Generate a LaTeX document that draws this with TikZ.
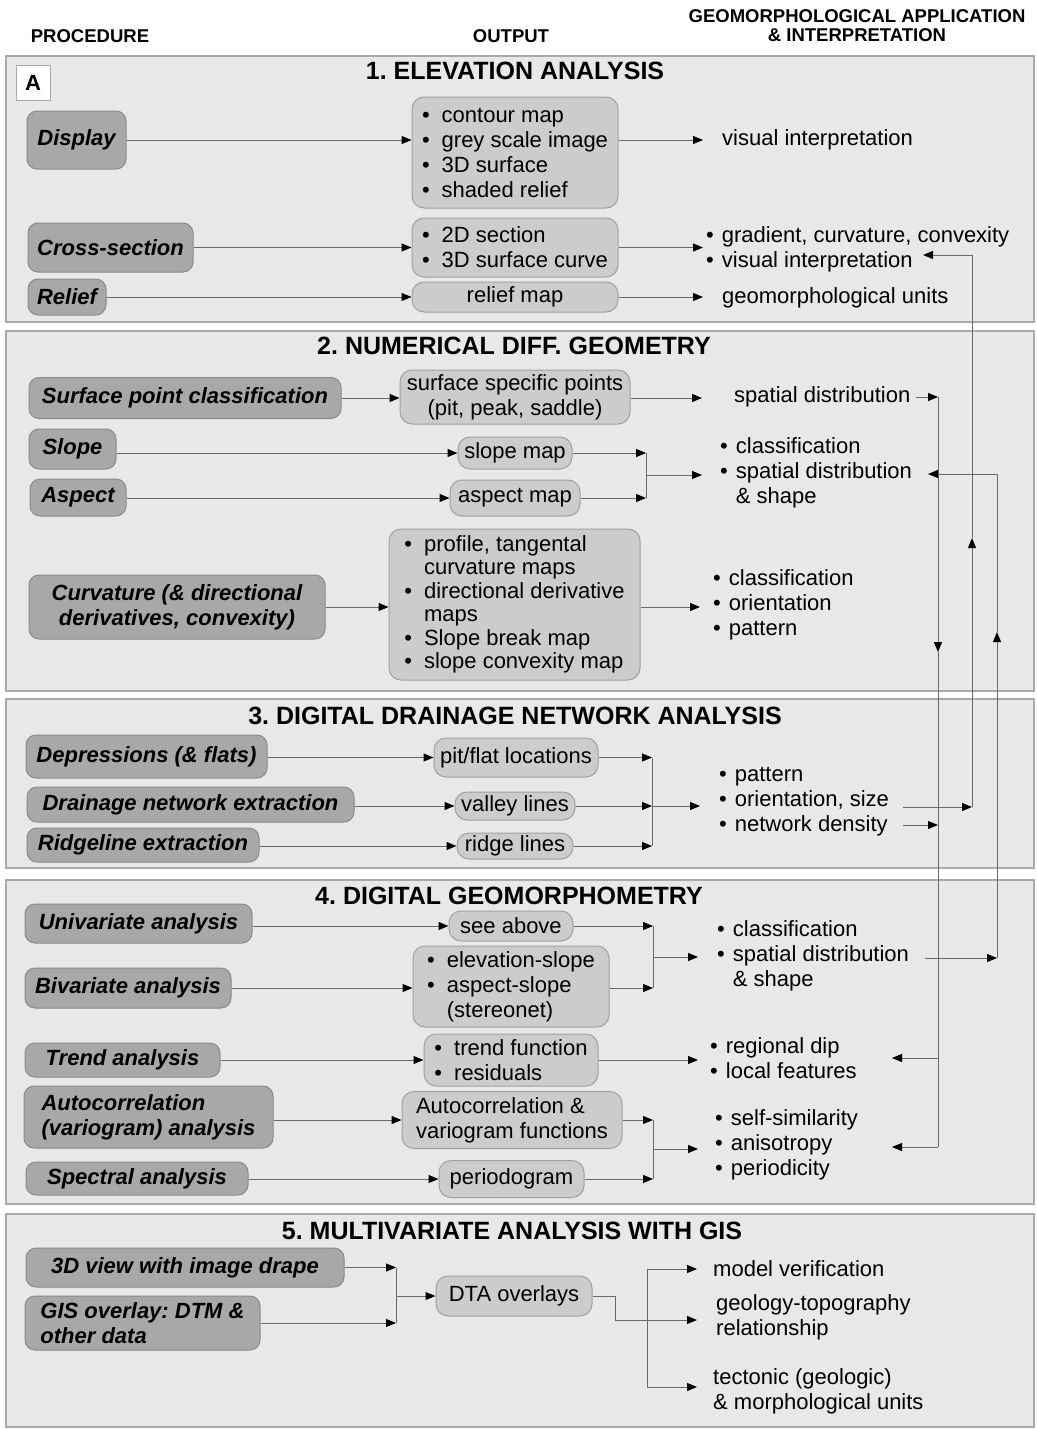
\documentclass[tikz,border=0pt]{standalone}
\usepackage{fontspec}
\setmainfont{Liberation Sans}
\usetikzlibrary{arrows.meta}
\frenchspacing
\definecolor{panelgray}{RGB}{232, 232, 232}
\definecolor{panelline}{RGB}{170, 170, 170}
\definecolor{procgray}{RGB}{168, 168, 168}
\definecolor{procline}{RGB}{138, 138, 138}
\definecolor{outgray}{RGB}{204, 204, 204}
\definecolor{outline}{RGB}{160, 160, 160}
\definecolor{wiregray}{RGB}{105, 105, 105}

% bullets inside boxes and in the right column
\newcommand{\bul}{\textbullet\hspace{12pt}}
\newcommand{\ind}{\hphantom{\bul}}
\newcommand{\rbul}{\textbullet\hspace{8pt}}
\newcommand{\rind}{\hphantom{\rbul}}

\tikzset{
  panel/.style={draw=panelline, fill=panelgray, line width=1.2pt},
  sectitle/.style={font=\fontsize{25}{28}\selectfont\bfseries},
  colhead/.style={font=\fontsize{18.5}{21}\selectfont\bfseries, align=center},
  proc/.style={draw=procline, fill=procgray, rounded corners=10pt, line width=1pt, inner sep=0pt,
    font=\fontsize{22}{25}\selectfont\bfseries\itshape},
  outbox/.style={draw=outline, fill=outgray, rounded corners=12pt, line width=1pt, inner sep=0pt,
    font=\fontsize{22}{25}\selectfont},
  rtext/.style={anchor=west, inner sep=0pt, align=left, font=\fontsize{22}{25}\selectfont},
  wire/.style={draw=wiregray, line width=1pt},
  >={Triangle[length=10pt, width=8pt, color=black]}
}

\begin{document}
\begin{tikzpicture}[x=1pt, y=-1pt]
  \fill[white] (0,0) rectangle (1036,1429);
  \useasboundingbox (0,0) rectangle (1036,1429);

  % Column heads
  \node[colhead] (hproc) at (90,36) {PROCEDURE};
  \node[colhead] (hout) at (511,36) {OUTPUT};
  \node[colhead] (happ) at (857,25.5) {GEOMORPHOLOGICAL APPLICATION\\[-2pt]\& INTERPRETATION};

  % Section panels
  \foreach \t/\b in {56/322, 331/691, 699/868, 880/1204, 1214/1427}
    \draw[panel] (6,\t) rectangle (1034,\b);

  % Section titles
  \foreach \n/\x/\y/\txt in {1/515/71/{1. ELEVATION ANALYSIS},
                             2/514/346/{2. NUMERICAL DIFF. GEOMETRY},
                             3/515/716/{3. DIGITAL DRAINAGE NETWORK ANALYSIS},
                             4/509/896/{4. DIGITAL GEOMORPHOMETRY},
                             5/512/1231/{5. MULTIVARIATE ANALYSIS WITH GIS}}
    \node[sectitle] (sec\n) at (\x,\y) {\txt};

  \node[draw=panelline, fill=white, line width=1pt, minimum size=34pt, inner sep=0pt,
        font=\fontsize{22}{25}\selectfont\bfseries] (tag) at (33,83) {A};

  % 1. Elevation analysis
  \node[proc, minimum width=99pt, minimum height=58pt] (disp) at (76.5,140) {Display};
  \node[outbox, minimum width=206pt, minimum height=111pt, align=left] (out1) at (515,152.5)
    {\bul contour map\\ \bul grey scale image\\ \bul 3D surface\\ \bul shaded relief};
  \node[proc, minimum width=165pt, minimum height=49pt] (cross) at (110.5,247.5) {Cross-section};
  \node[outbox, minimum width=206pt, minimum height=59pt, align=left] (out2) at (515,247.5)
    {\bul 2D section\\ \bul 3D surface curve};
  \node[proc, minimum width=78pt, minimum height=36pt] (relief) at (67,297) {Relief};
  \node[outbox, minimum width=206pt, minimum height=30pt] (out3) at (515,297) {relief map};

  \node[rtext] (vis1) at (722,140) {visual interpretation};
  \node[rtext] (grad) at (706,249) {\rbul gradient, curvature, convexity\\ \rbul visual interpretation};
  \node[rtext] (units) at (722,298) {geomorphological units};

  \draw[wire, ->] (disp.east) -- (disp -| out1.west);
  \draw[wire, ->] (cross.east) -- (cross -| out2.west);
  \draw[wire, ->] (relief.east) -- (relief -| out3.west);
  \draw[wire, ->, shorten >=19pt] (disp -| out1.east) -- (disp -| vis1.west);
  \draw[wire, ->, shorten >=3pt] (cross -| out2.east) -- (cross -| grad.west);
  \draw[wire, ->, shorten >=19pt] (relief -| out3.east) -- (relief -| units.west);

  % 2. Numerical diff. geometry
  \node[proc, minimum width=312pt, minimum height=41pt] (spc) at (185,398) {Surface point classification};
  \node[outbox, minimum width=230pt, minimum height=54pt, align=center] (sout) at (515,397)
    {surface specific points\\(pit, peak, saddle)};
  \node[proc, minimum width=87pt, minimum height=40pt] (slope) at (72.5,449) {Slope};
  \node[outbox, minimum width=114pt, minimum height=32pt] (smap) at (515,453) {slope map};
  \node[proc, minimum width=96pt, minimum height=37pt] (aspect) at (78,497.5) {Aspect};
  \node[outbox, minimum width=130pt, minimum height=36pt] (amap) at (515,498) {aspect map};
  \node[proc, minimum width=296pt, minimum height=64pt, align=center] (curv) at (177,607)
    {Curvature (\& directional\\derivatives, convexity)};
  \node[outbox, minimum width=251pt, minimum height=151pt, align=left,
        font=\fontsize{22}{23.5}\selectfont] (cout) at (514.5,604.5)
    {\bul profile, tangental\\ \ind curvature maps\\ \bul directional derivative\\ \ind maps\\
     \bul Slope break map\\ \bul slope convexity map};

  \node[rtext] (sd1) at (734,397) {spatial distribution};
  \node[rtext] (cls1) at (720,473) {\rbul classification\\ \rbul spatial distribution\\ \rind\& shape};
  \node[rtext] (cls2) at (713,605) {\rbul classification\\ \rbul orientation\\ \rbul pattern};

  \draw[wire, ->] (spc.east) -- (spc -| sout.west);
  \draw[wire, ->, shorten >=32pt] (spc -| sout.east) -- (spc -| sd1.west);
  \draw[wire, ->] (smap -| slope.east) -- (smap.west);
  \draw[wire, ->] (amap -| aspect.east) -- (amap.west);
  \coordinate (j2) at (646,475);
  \draw[wire, ->] (smap.east) -- (smap -| j2);
  \draw[wire, ->] (amap.east) -- (amap -| j2);
  \draw[wire] (smap -| j2) -- (amap -| j2);
  \draw[wire, ->, shorten >=18pt] (j2) -- (j2 -| cls1.west);
  \draw[wire, ->] (curv.east) -- (curv -| cout.west);
  \draw[wire, ->, shorten >=13pt] (curv -| cout.east) -- (curv -| cls2.west);

  % 3. Digital drainage network analysis
  \node[proc, minimum width=241pt, minimum height=43pt] (dep) at (146.5,756.5) {Depressions (\& flats)};
  \node[outbox, minimum width=164pt, minimum height=39pt] (pit) at (516,757.5) {pit/flat locations};
  \node[proc, minimum width=327pt, minimum height=35pt] (dne) at (190.5,804.5) {Drainage network extraction};
  \node[outbox, minimum width=120pt, minimum height=28pt] (valley) at (515,806) {valley lines};
  \node[proc, minimum width=232pt, minimum height=34pt] (ridge) at (143,845) {Ridgeline extraction};
  \node[outbox, minimum width=116pt, minimum height=26pt] (ridgel) at (515,846) {ridge lines};

  \node[rtext] (pat) at (719,802) {\rbul pattern\\ \rbul orientation, size\\ \rbul network density};

  \draw[wire, ->] (pit -| dep.east) -- (pit.west);
  \draw[wire, ->] (valley -| dne.east) -- (valley.west);
  \draw[wire, ->] (ridgel -| ridge.east) -- (ridgel.west);
  \coordinate (j3) at (652,806);
  \foreach \o in {pit, valley, ridgel}
    \draw[wire, ->] (\o.east) -- (\o -| j3);
  \draw[wire] (pit -| j3) -- (ridgel -| j3);
  \draw[wire, ->, shorten >=19pt] (j3) -- (j3 -| pat.west);

  % 4. Digital geomorphometry
  \node[proc, minimum width=227pt, minimum height=39pt] (uni) at (138.5,923.5) {Univariate analysis};
  \node[outbox, minimum width=124pt, minimum height=30pt] (see) at (511,926) {see above};
  \node[proc, minimum width=206pt, minimum height=40pt] (biv) at (128,988) {Bivariate analysis};
  \node[outbox, minimum width=196pt, minimum height=81pt, align=left] (bout) at (511,986.5)
    {\bul elevation-slope\\ \bul aspect-slope\\ \ind(stereonet)};
  \node[proc, minimum width=195pt, minimum height=34pt] (trend) at (122.5,1060) {Trend analysis};
  \node[outbox, minimum width=174pt, minimum height=52pt, align=left] (tout) at (511,1060)
    {\bul trend function\\ \bul residuals};
  \node[proc, minimum width=249pt, minimum height=62pt, align=left] (auto) at (148.5,1117)
    {Autocorrelation\\(variogram) analysis};
  \node[outbox, minimum width=220pt, minimum height=57pt, align=left] (aout) at (512,1120)
    {Autocorrelation \&\\variogram functions};
  \node[proc, minimum width=222pt, minimum height=33pt] (spec) at (137,1178.5) {Spectral analysis};
  \node[outbox, minimum width=145pt, minimum height=37pt] (period) at (511.5,1179) {periodogram};

  \node[rtext] (cls3) at (717,956) {\rbul classification\\ \rbul spatial distribution\\ \rind\& shape};
  \node[rtext] (dip) at (710,1058) {\rbul regional dip\\ \rbul local features};
  \node[rtext] (self) at (715,1145) {\rbul self-similarity\\ \rbul anisotropy\\ \rbul periodicity};

  \draw[wire, ->] (see -| uni.east) -- (see.west);
  \draw[wire, ->] (biv.east) -- (biv -| bout.west);
  \draw[wire, ->] (trend.east) -- (trend -| tout.west);
  \draw[wire, ->] (aout -| auto.east) -- (aout.west);
  \draw[wire, ->] (period -| spec.east) -- (period.west);
  \coordinate (j4a) at (653,957);
  \draw[wire, ->] (see.east) -- (see -| j4a);
  \draw[wire, ->] (biv -| bout.east) -- (biv -| j4a);
  \draw[wire] (see -| j4a) -- (biv -| j4a);
  \draw[wire, ->, shorten >=19pt] (j4a) -- (j4a -| cls3.west);
  \draw[wire, ->, shorten >=12pt] (trend -| tout.east) -- (trend -| dip.west);
  \coordinate (j4b) at (653,1149);
  \draw[wire, ->] (aout.east) -- (aout -| j4b);
  \draw[wire, ->] (period.east) -- (period -| j4b);
  \draw[wire] (aout -| j4b) -- (period -| j4b);
  \draw[wire, ->, shorten >=17pt] (j4b) -- (j4b -| self.west);

  % 5. Multivariate analysis with GIS
  \node[proc, minimum width=318pt, minimum height=39pt] (v3d) at (185,1267.5) {3D view with image drape};
  \node[proc, minimum width=235pt, minimum height=54pt, align=left] (gis) at (142.5,1323)
    {GIS overlay: DTM \&\\other data};
  \node[outbox, minimum width=156pt, minimum height=40pt] (dta) at (514,1296) {DTA overlays};

  \node[rtext] (model) at (713,1269) {model verification};
  \node[rtext] (geotopo) at (716,1317) {geology-topography\\relationship};
  \node[rtext] (tect) at (713,1391) {tectonic (geologic)\\\& morphological units};

  \coordinate (j5l) at (396,1296);
  \draw[wire, ->] (v3d.east) -- (v3d -| j5l);
  \draw[wire, ->] (gis.east) -- (gis -| j5l);
  \draw[wire] (v3d -| j5l) -- (gis -| j5l);
  \draw[wire, ->] (j5l) -- (dta.west);
  \coordinate (j5r) at (615,1320);
  \coordinate (j5t) at (647,1269);
  \coordinate (j5b) at (647,1387);
  \draw[wire, ->, shorten >=19pt] (dta.east) -| (j5r) -- (j5r -| geotopo.west);
  \draw[wire] (j5t) -- (j5b);
  \draw[wire, ->, shorten >=16pt] (j5t) -- (j5t -| model.west);
  \draw[wire, ->, shorten >=16pt] (j5b) -- (j5b -| tect.west);

  % Feedback lines on the right
  \coordinate (aTop) at (938,397);
  \coordinate (aMid) at (938,652);
  \coordinate (aBot) at (938,1147);
  \coordinate (dipIn) at (892,1058);
  \coordinate (selfIn) at (892,1147);
  \coordinate (ndOut) at (903,825);
  \draw[wire, ->, shorten <=5pt] (sd1.east) -- (aTop);
  \draw[wire, ->] (aTop) -- (aMid);
  \draw[wire] (aMid) -- (aBot);
  \draw[wire, ->] (aBot |- dipIn) -- (dipIn);
  \draw[wire, ->] (aBot) -- (selfIn);
  \draw[wire, ->] (ndOut) -- (ndOut -| aTop);

  \coordinate (bTop) at (972,255);
  \coordinate (bMid) at (972,538);
  \coordinate (bBot) at (972,807);
  \coordinate (visIn) at (923,255);
  \coordinate (osOut) at (903,807);
  \draw[wire, ->] (osOut) -- (bBot);
  \draw[wire, ->] (bBot) -- (bMid);
  \draw[wire, ->] (bMid) -- (bTop) -- (visIn);

  \coordinate (cTop) at (997,474);
  \coordinate (cMid) at (997,632);
  \coordinate (cBot) at (997,958);
  \coordinate (sdIn) at (928,474);
  \coordinate (sdOut) at (925,958);
  \draw[wire, ->] (sdOut) -- (cBot);
  \draw[wire, ->] (cBot) -- (cMid);
  \draw[wire, ->] (cMid) -- (cTop) -- (sdIn);
\end{tikzpicture}
\end{document}
